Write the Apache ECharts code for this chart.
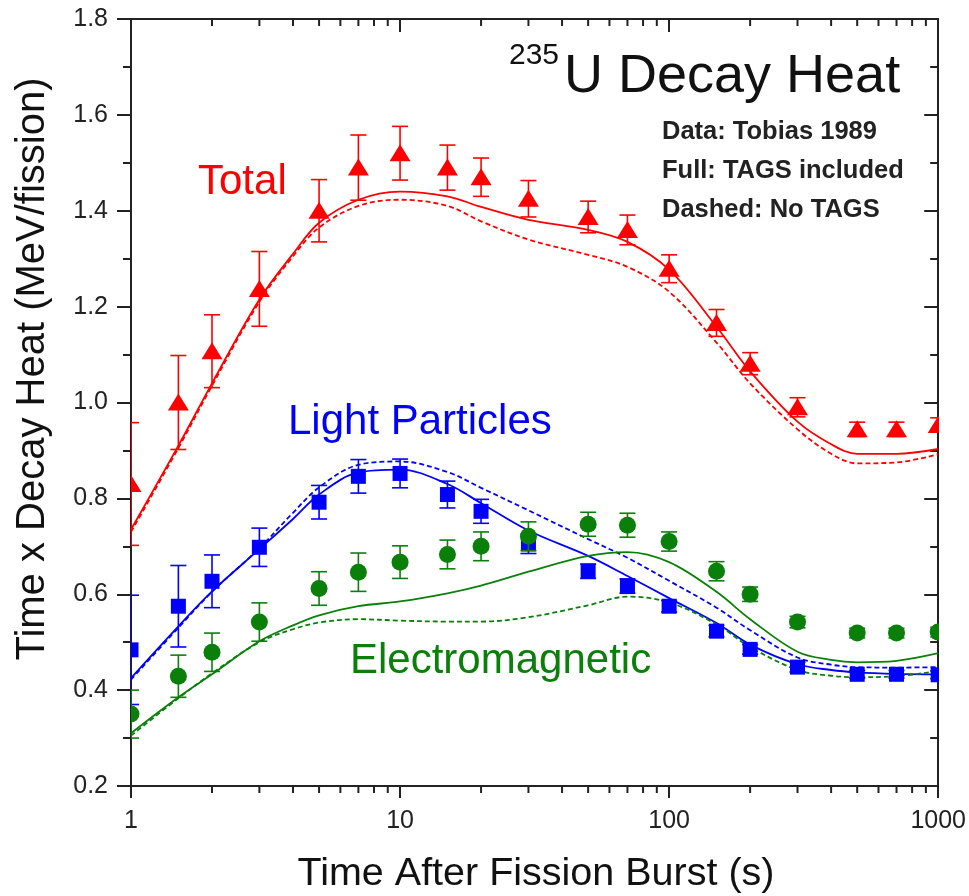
<!DOCTYPE html>
<html>
<head>
<meta charset="utf-8">
<script src="https://cdn.jsdelivr.net/npm/echarts@6/dist/echarts.min.js"></script>
<style>
  html, body { margin: 0; padding: 0; background: #fff; }
  #chart { width: 969px; height: 896px; }
</style>
</head>
<body>
<div id="chart"></div>
<script>
// measured points (Tobias 1989)
var times = [1, 1.5, 2, 3, 5, 7, 10, 15, 20, 30, 50, 70, 100, 150, 200, 300, 500, 700, 1000];
var totalPts = [0.83, 1.0, 1.107, 1.237, 1.40, 1.49, 1.52, 1.49, 1.47, 1.425, 1.387, 1.36, 1.279, 1.166, 1.081, 0.99, 0.944, 0.944, 0.953];
var totalErr = [0.128, 0.098, 0.076, 0.078, 0.065, 0.068, 0.056, 0.047, 0.04, 0.038, 0.033, 0.031, 0.029, 0.028, 0.023, 0.02, 0.015, 0.015, 0.015];
var lightPts = [0.484, 0.575, 0.627, 0.698, 0.792, 0.846, 0.852, 0.808, 0.773, 0.705, 0.648, 0.617, 0.575, 0.523, 0.485, 0.448, 0.433, 0.433, 0.432];
var lightErr = [0.114, 0.085, 0.055, 0.04, 0.035, 0.035, 0.03, 0.028, 0.025, 0.02, 0.015, 0.015, 0.012, 0.012, 0.01, 0.01, 0.008, 0.008, 0.008];
var emPts = [0.35, 0.429, 0.479, 0.542, 0.612, 0.646, 0.667, 0.683, 0.70, 0.721, 0.746, 0.744, 0.71, 0.648, 0.60, 0.542, 0.519, 0.519, 0.521];
var emErr = [0.05, 0.044, 0.04, 0.04, 0.035, 0.04, 0.034, 0.03, 0.03, 0.03, 0.025, 0.025, 0.02, 0.02, 0.015, 0.012, 0.01, 0.01, 0.01];

// calculated curves
var curveTimes = [1, 1.5, 2, 3, 4, 5, 7, 10, 15, 20, 30, 50, 70, 100, 150, 200, 300, 400, 500, 700, 1000];
var totalFull = [0.735, 0.91, 1.04, 1.215, 1.31, 1.375, 1.423, 1.44, 1.43, 1.408, 1.381, 1.36, 1.335, 1.277, 1.158, 1.065, 0.96, 0.913, 0.893, 0.893, 0.903];
var totalNoTags = [0.73, 0.905, 1.035, 1.21, 1.305, 1.365, 1.41, 1.423, 1.41, 1.378, 1.34, 1.308, 1.283, 1.231, 1.125, 1.04, 0.944, 0.893, 0.873, 0.875, 0.892];
var lightFull = [0.425, 0.533, 0.606, 0.694, 0.757, 0.808, 0.854, 0.86, 0.83, 0.79, 0.733, 0.68, 0.638, 0.592, 0.54, 0.495, 0.454, 0.442, 0.437, 0.434, 0.433];
var lightNoTags = [0.422, 0.53, 0.605, 0.696, 0.77, 0.823, 0.87, 0.877, 0.855, 0.822, 0.775, 0.715, 0.676, 0.628, 0.572, 0.525, 0.468, 0.453, 0.448, 0.447, 0.448];
var emFull = [0.31, 0.385, 0.433, 0.502, 0.535, 0.556, 0.575, 0.585, 0.602, 0.618, 0.647, 0.68, 0.688, 0.667, 0.605, 0.548, 0.48, 0.463, 0.458, 0.461, 0.477];
var emNoTags = [0.305, 0.383, 0.435, 0.5, 0.527, 0.541, 0.548, 0.545, 0.543, 0.543, 0.552, 0.577, 0.595, 0.583, 0.537, 0.49, 0.442, 0.43, 0.427, 0.429, 0.44];

// axis ticks
var xMajorTicks = [1, 10, 100, 1000];
var xMinorTicks = [2, 3, 4, 5, 6, 7, 8, 9, 20, 30, 40, 50, 60, 70, 80, 90, 200, 300, 400, 500, 600, 700, 800, 900];

var RED = '#ff0000', BLUE = '#0000ff', GREEN = '#0a800a';
var FONT = '"Liberation Sans", Arial, Helvetica, sans-serif';

var chart = echarts.init(document.getElementById('chart'));

function curve(vals, color, dashed) {
  return {
    type: 'line',
    data: curveTimes.map(function (t, i) { return [t, vals[i]]; }),
    showSymbol: false,
    smooth: 0.35,
    clip: true,
    z: 3,
    lineStyle: { color: color, width: 1.8, type: dashed ? [5, 3] : 'solid' },
    silent: true
  };
}

function points(vals, errs, color, shape) {
  return {
    type: 'custom',
    clip: true,
    z: 4,
    data: times.map(function (t, i) { return [t, vals[i], errs[i]]; }),
    encode: { x: 0, y: 1 },
    renderItem: function (params, api) {
      var p = api.coord([api.value(0), api.value(1)]);
      var hi = api.coord([api.value(0), api.value(1) + api.value(2)]);
      var lo = api.coord([api.value(0), api.value(1) - api.value(2)]);
      var ls = { stroke: color, lineWidth: 1.6 };
      var kids = [
        { type: 'line', shape: { x1: p[0], y1: hi[1], x2: p[0], y2: lo[1] }, style: ls },
        { type: 'line', shape: { x1: p[0] - 8, y1: hi[1], x2: p[0] + 8, y2: hi[1] }, style: ls },
        { type: 'line', shape: { x1: p[0] - 8, y1: lo[1], x2: p[0] + 8, y2: lo[1] }, style: ls }
      ];
      if (shape === 'triangle') {
        kids.push({ type: 'polygon', shape: { points: [[p[0], p[1] - 9], [p[0] - 10.5, p[1] + 8], [p[0] + 10.5, p[1] + 8]] }, style: { fill: color } });
      } else if (shape === 'rect') {
        kids.push({ type: 'rect', shape: { x: p[0] - 7.5, y: p[1] - 7.5, width: 15, height: 15 }, style: { fill: color } });
      } else {
        kids.push({ type: 'circle', shape: { cx: p[0], cy: p[1], r: 8.5 }, style: { fill: color } });
      }
      return { type: 'group', children: kids };
    }
  };
}

// minor ticks of the log axes (bottom outward, top inward)
var minorTickSeries = {
  type: 'custom',
  clip: false,
  z: 6,
  silent: true,
  data: xMinorTicks.map(function (t) { return [t, 0.2]; }),
  encode: { x: 0, y: 1 },
  renderItem: function (params, api) {
    var b = api.coord([api.value(0), 0.2]);
    var t = api.coord([api.value(0), 1.8]);
    var st = { stroke: '#222', lineWidth: 2 };
    return {
      type: 'group',
      children: [
        { type: 'line', shape: { x1: b[0], y1: b[1], x2: b[0], y2: b[1] + 7 }, style: st },
        { type: 'line', shape: { x1: t[0], y1: t[1], x2: t[0], y2: t[1] + 7 }, style: st }
      ]
    };
  }
};

var axisLine = { show: true, lineStyle: { color: '#222', width: 2 } };

chart.setOption({
  animation: false,
  grid: { left: 131, right: 30, top: 19, bottom: 110 },
  xAxis: [{
    type: 'log', logBase: 10, min: 1, max: 1000, position: 'bottom',
    axisLine: axisLine,
    axisTick: { show: true, inside: false, length: 12, lineStyle: { color: '#222', width: 2 } },
    axisLabel: {
      margin: 23, fontSize: 25, color: '#222', fontFamily: FONT,
      formatter: function (v) {
        var r = Math.round(v);
        return xMajorTicks.indexOf(r) >= 0 ? String(r) : '';
      }
    },
    splitLine: { show: false }
  }, {
    type: 'log', logBase: 10, min: 1, max: 1000, position: 'top',
    axisLine: axisLine,
    axisTick: { show: true, inside: true, length: 13, lineStyle: { color: '#222', width: 2 } },
    axisLabel: { show: false },
    splitLine: { show: false }
  }],
  yAxis: [{
    type: 'value', min: 0.2, max: 1.8, interval: 0.2, position: 'left',
    axisLine: axisLine,
    axisTick: { show: true, inside: false, length: 14, lineStyle: { color: '#222', width: 2 } },
    minorTick: { show: true, splitNumber: 2, length: 8, lineStyle: { color: '#222', width: 2 } },
    axisLabel: { margin: 23, fontSize: 25, color: '#222', fontFamily: FONT, formatter: function (v) { return v.toFixed(1); } },
    splitLine: { show: false }, minorSplitLine: { show: false }
  }, {
    type: 'value', min: 0.2, max: 1.8, interval: 0.2, position: 'right',
    axisLine: axisLine,
    axisTick: { show: true, inside: true, length: 14, lineStyle: { color: '#222', width: 2 } },
    minorTick: { show: true, splitNumber: 2, length: 8, lineStyle: { color: '#222', width: 2 } },
    axisLabel: { show: false },
    splitLine: { show: false }, minorSplitLine: { show: false }
  }],
  series: [
    curve(totalFull, RED, false),
    curve(totalNoTags, RED, true),
    curve(lightFull, BLUE, false),
    curve(lightNoTags, BLUE, true),
    curve(emFull, GREEN, false),
    curve(emNoTags, GREEN, true),
    points(totalPts, totalErr, RED, 'triangle'),
    points(lightPts, lightErr, BLUE, 'rect'),
    points(emPts, emErr, GREEN, 'circle'),
    minorTickSeries
  ],
  graphic: [
    { type: 'text', x: 536, y: 874, style: { text: 'Time After Fission Burst (s)', font: '39.5px ' + FONT, fill: '#111', align: 'center', verticalAlign: 'middle' } },
    { type: 'text', x: 33, y: 369, rotation: Math.PI / 2, style: { text: 'Time x Decay Heat (MeV/fission)', font: '40px ' + FONT, fill: '#111', align: 'center', verticalAlign: 'middle' } },
    { type: 'text', x: 509, y: 56, style: { text: '235', font: '30px ' + FONT, fill: '#111', align: 'left', verticalAlign: 'middle' } },
    { type: 'text', x: 564, y: 77, style: { text: 'U Decay Heat', font: '54px ' + FONT, fill: '#111', align: 'left', verticalAlign: 'middle' } },
    { type: 'text', x: 662, y: 132, style: { text: 'Data: Tobias 1989', font: 'bold 25.5px ' + FONT, fill: '#222', align: 'left', verticalAlign: 'middle' } },
    { type: 'text', x: 662, y: 171, style: { text: 'Full: TAGS included', font: 'bold 25.5px ' + FONT, fill: '#222', align: 'left', verticalAlign: 'middle' } },
    { type: 'text', x: 662, y: 210, style: { text: 'Dashed: No TAGS', font: 'bold 25.5px ' + FONT, fill: '#222', align: 'left', verticalAlign: 'middle' } },
    { type: 'text', x: 198, y: 182, style: { text: 'Total', font: '42px ' + FONT, fill: RED, align: 'left', verticalAlign: 'middle' } },
    { type: 'text', x: 288, y: 422, style: { text: 'Light Particles', font: '42px ' + FONT, fill: BLUE, align: 'left', verticalAlign: 'middle' } },
    { type: 'text', x: 350, y: 661, style: { text: 'Electromagnetic', font: '42px ' + FONT, fill: GREEN, align: 'left', verticalAlign: 'middle' } }
  ]
});
</script>
</body>
</html>
